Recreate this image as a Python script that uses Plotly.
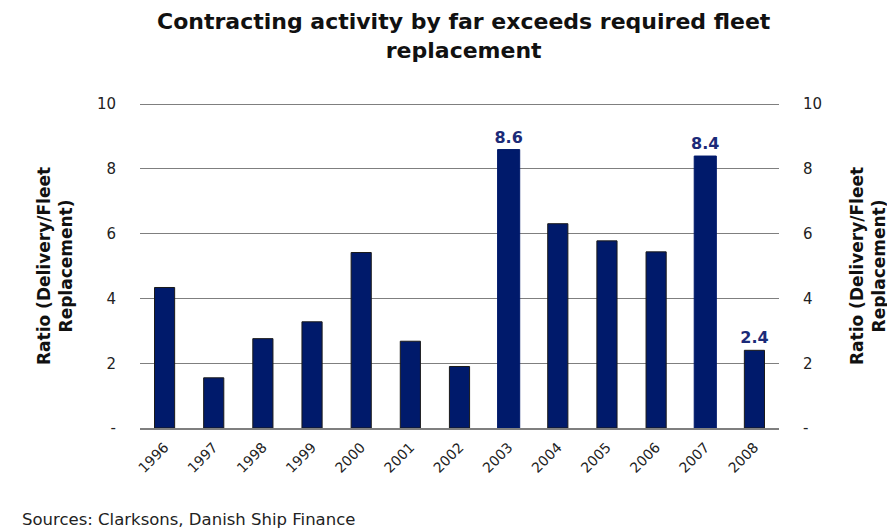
import plotly.graph_objects as go

years = ["1996", "1997", "1998", "1999", "2000", "2001", "2002",
         "2003", "2004", "2005", "2006", "2007", "2008"]
ratios = [4.34, 1.55, 2.76, 3.28, 5.42, 2.68, 1.90, 8.6, 6.31, 5.78, 5.44, 8.4, 2.4]
labels = ["", "", "", "", "", "", "", "8.6", "", "", "", "8.4", "2.4"]
highlight = [False] * 7 + [True, False, False, False, True, False]
y_ticks = [0, 2, 4, 6, 8, 10]
y_ticktext = ["-", "2", "4", "6", "8", "10"]

NAVY = "#001A6B"
FONT = "DejaVu Sans"

widths = [0.45 if h else 0.41 for h in highlight]
line_colors = [NAVY if h else "#1a1a1a" for h in highlight]

fig = go.Figure()
fig.add_trace(go.Bar(
    x=years, y=ratios, width=widths,
    marker=dict(color=NAVY, line=dict(color=line_colors, width=1)),
    text=labels, textposition="outside", cliponaxis=False, constraintext="none",
    textfont=dict(family=FONT, size=16, color="#1B2A78", weight="bold"),
    hoverinfo="x+y",
))
fig.add_trace(go.Scatter(
    x=years, y=ratios, yaxis="y2", mode="markers",
    marker=dict(opacity=0, size=1), showlegend=False, hoverinfo="skip",
))

YMAX = 10.1
axis_common = dict(
    range=[0, YMAX], tickvals=y_ticks, ticktext=y_ticktext,
    tickfont=dict(family=FONT, size=15, color="#222"),
    ticks="outside", ticklen=20, tickcolor="rgba(0,0,0,0)",
    showline=False, zeroline=False, fixedrange=True,
)

PW = 639          # plot width, px
PH = 522 - 93 - 102  # plot height, px
BOT = 428         # plot bottom in page px

fig.update_layout(
    width=887, height=522,
    margin=dict(l=132, r=116, t=93, b=102, autoexpand=False),
    paper_bgcolor="white", plot_bgcolor="white",
    showlegend=False,
    xaxis=dict(
        type="category", tickangle=-45, range=[-0.5, 12.5],
        tickfont=dict(family=FONT, size=14, color="#222"),
        showline=True, linecolor="#7f7f7f", linewidth=1.5,
        showgrid=False, ticks="outside", ticklen=4, tickcolor="rgba(0,0,0,0)",
    ),
    yaxis=dict(showgrid=True, gridcolor="#7f7f7f", gridwidth=1, **axis_common),
    yaxis2=dict(overlaying="y", side="right", showgrid=False, **axis_common),
    annotations=[
        dict(text="<b>Contracting activity by far exceeds required fleet<br>replacement</b>",
             xref="paper", yref="paper", x=(464 - 140) / PW, y=(BOT - 36) / PH,
             xanchor="center", yanchor="middle", showarrow=False,
             font=dict(family=FONT, size=22, color="#111")),
        dict(text="<b>Ratio (Delivery/Fleet<br>Replacement)</b>", textangle=-90,
             xref="paper", yref="paper", x=(55 - 140) / PW, y=(BOT - 266) / PH,
             xanchor="center", yanchor="middle", showarrow=False,
             font=dict(family=FONT, size=17, color="#111")),
        dict(text="<b>Ratio (Delivery/Fleet<br>Replacement)</b>", textangle=-90,
             xref="paper", yref="paper", x=(868 - 140) / PW, y=(BOT - 266) / PH,
             xanchor="center", yanchor="middle", showarrow=False,
             font=dict(family=FONT, size=17, color="#111")),
        dict(text="Sources: Clarksons, Danish Ship Finance",
             xref="paper", yref="paper", x=(20 - 140) / PW, y=-(519 - BOT) / PH,
             xanchor="left", yanchor="middle", showarrow=False,
             font=dict(family=FONT, size=16.5, color="#222")),
    ],
)

fig.write_html("out.html")
